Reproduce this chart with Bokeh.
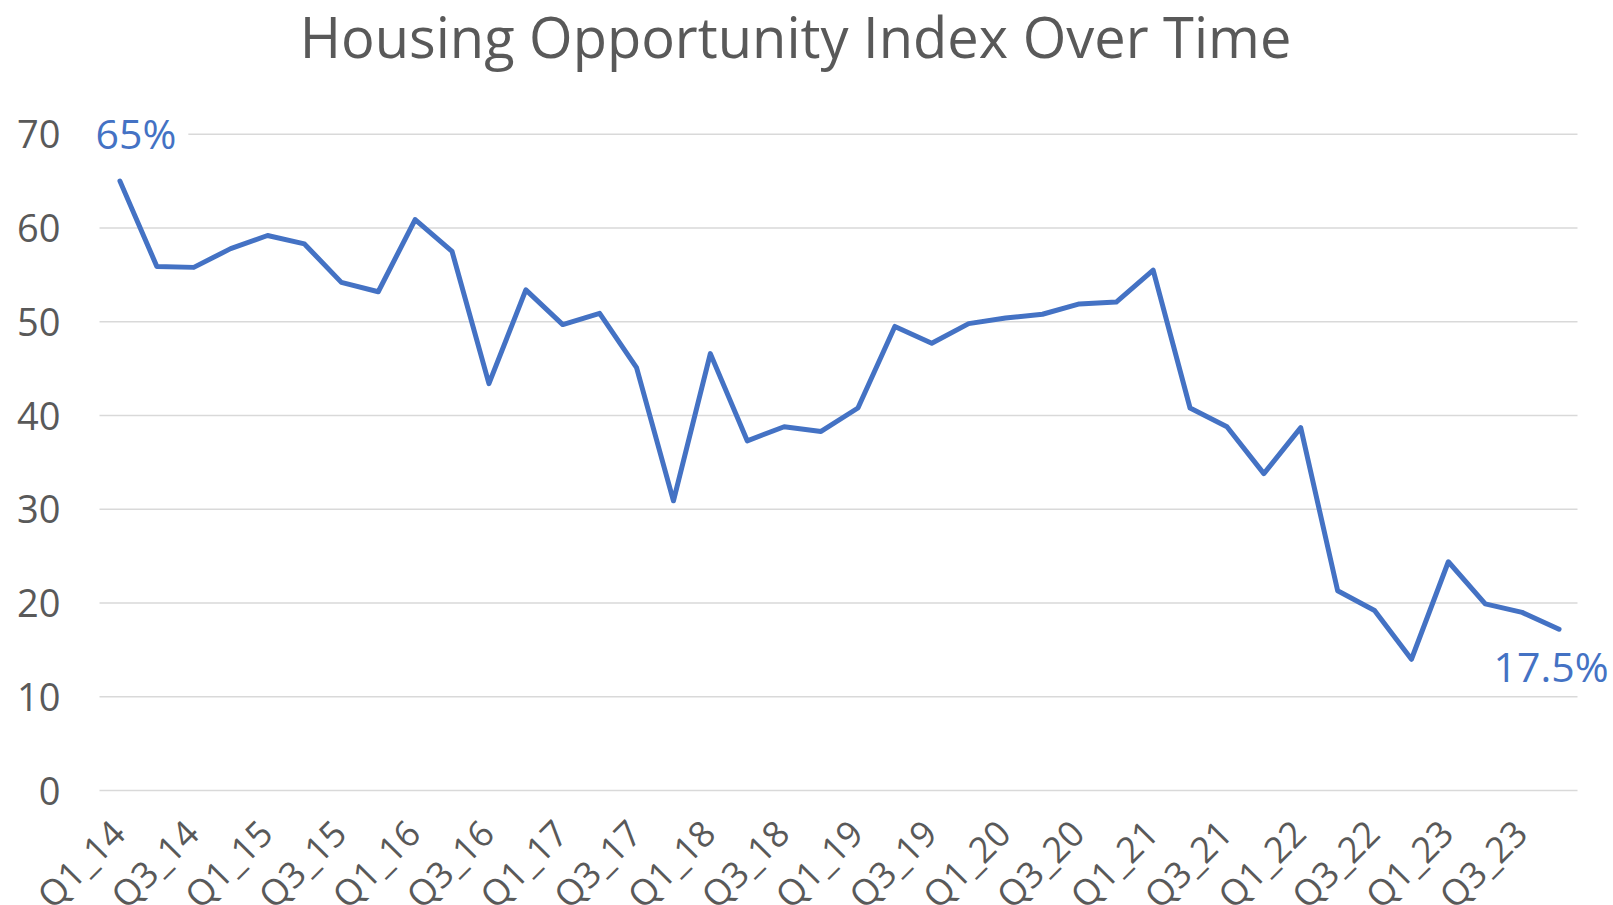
from math import pi
from bokeh.plotting import figure
from bokeh.models import Range1d, Label, LabelSet, ColumnDataSource
from bokeh.embed import file_html
from bokeh.resources import INLINE
from bokeh.core.properties import value

# ---- data ----
quarters = ["Q1_14", "Q2_14", "Q3_14", "Q4_14",
            "Q1_15", "Q2_15", "Q3_15", "Q4_15",
            "Q1_16", "Q2_16", "Q3_16", "Q4_16",
            "Q1_17", "Q2_17", "Q3_17", "Q4_17",
            "Q1_18", "Q2_18", "Q3_18", "Q4_18",
            "Q1_19", "Q2_19", "Q3_19", "Q4_19",
            "Q1_20", "Q2_20", "Q3_20", "Q4_20",
            "Q1_21", "Q2_21", "Q3_21", "Q4_21",
            "Q1_22", "Q2_22", "Q3_22", "Q4_22",
            "Q1_23", "Q2_23", "Q3_23", "Q4_23"]
hoi = [65.0, 55.9, 55.8, 57.8, 59.2, 58.3, 54.2, 53.2,
       60.9, 57.5, 43.4, 53.4, 49.7, 50.9, 45.1, 30.9,
       46.6, 37.3, 38.8, 38.3, 40.8, 49.5, 47.7, 49.8,
       50.4, 50.8, 51.9, 52.1, 55.5, 40.8, 38.8, 33.8,
       38.7, 21.3, 19.2, 14.0, 24.4, 19.9, 19.0, 17.2]
y_ticks = [0, 10, 20, 30, 40, 50, 60, 70]
y_tick_labels = ["0", "10", "20", "30", "40", "50", "60", "70"]
start_label = "65%"
end_label = "17.5%"
title_text = "Housing Opportunity Index Over Time"

# ---- layout constants (pixels) ----
W, H = 1613, 905
CAT_LEFT = 101           # left boundary of the first quarter slot
GRID_LEFT = 99           # where the gridlines begin
PX_PER_Q = 36.9          # width of one quarter
PX_PER_UNIT = 9.375      # pixels per index point
ZERO_Y = 790             # pixel row of value 0
YLAB_RIGHT = 60          # right edge of the value labels
TITLE_CX, TITLE_MID = 795, 35

TXT = "#595959"
BLUE = "#4472C4"
GRID = "#D9D9D9"
FONT = "Open Sans"

n = len(quarters)
xs = list(range(n))
x_start = -0.5 - CAT_LEFT / PX_PER_Q
x_end = x_start + W / PX_PER_Q
y_start = -(H - ZERO_Y) / PX_PER_UNIT
y_end = ZERO_Y / PX_PER_UNIT


def px_to_x(px):
    return x_start + px / PX_PER_Q


def px_to_y(py):
    return (ZERO_Y - py) / PX_PER_UNIT


src = ColumnDataSource(dict(x=xs, y=hoi))
grid_src = ColumnDataSource(dict(x0=[px_to_x(GRID_LEFT)] * len(y_ticks),
                                 x1=[n - 0.5] * len(y_ticks),
                                 y=y_ticks))
ylab_src = ColumnDataSource(dict(x=[px_to_x(YLAB_RIGHT)] * len(y_ticks),
                                 y=y_ticks, t=y_tick_labels))
tick_idx = xs[::2]
tick_src = ColumnDataSource(dict(x=tick_idx, y=[y_ticks[0]] * len(tick_idx),
                                 q=[quarters[i] for i in tick_idx]))

p = figure(width=W, height=H, output_backend="svg", toolbar_location=None,
           x_range=Range1d(x_start, x_end), y_range=Range1d(y_start, y_end),
           x_axis_location=None, y_axis_location=None,
           min_border=0, title=None)

p.outline_line_color = None
p.background_fill_color = "white"
p.border_fill_color = "white"
for g in p.grid:
    g.visible = False

# horizontal gridlines over the plot area
p.segment(x0="x0", y0="y", x1="x1", y1="y", source=grid_src,
          line_color=GRID, line_width=1.6)

# value-axis labels
p.add_layout(LabelSet(x="x", y="y", text="t", source=ylab_src,
                      text_align="right", text_baseline="middle",
                      text_font=value(FONT), text_font_size=value("38px"),
                      text_color=TXT))

# data line
p.line("x", "y", source=src, line_color=BLUE, line_width=5,
       line_join="round", line_cap="round")

# category labels (rotated)
p.add_layout(LabelSet(x="x", y="y", text="q", source=tick_src, angle=pi / 4,
                      text_align="right", text_baseline="middle",
                      x_offset=-2, y_offset=-36,
                      text_font=value(FONT), text_font_size=value("36px"),
                      text_color=TXT))

# data labels
p.add_layout(Label(x=xs[0], y=hoi[0], text=start_label, x_offset=16, y_offset=48,
                   text_align="center", text_baseline="middle",
                   text_font=FONT, text_font_size="41px", text_color=BLUE,
                   background_fill_color="white", padding=12))
p.add_layout(Label(x=xs[-1], y=hoi[-1], text=end_label, x_offset=-8, y_offset=-37,
                   text_align="center", text_baseline="middle",
                   text_font=FONT, text_font_size="41px", text_color=BLUE))

# chart title
p.add_layout(Label(x=px_to_x(TITLE_CX), y=px_to_y(TITLE_MID), text=title_text,
                   text_align="center", text_baseline="middle",
                   text_font=FONT, text_font_size="56px", text_color=TXT))

open("out.html", "w").write(file_html(p, INLINE))
